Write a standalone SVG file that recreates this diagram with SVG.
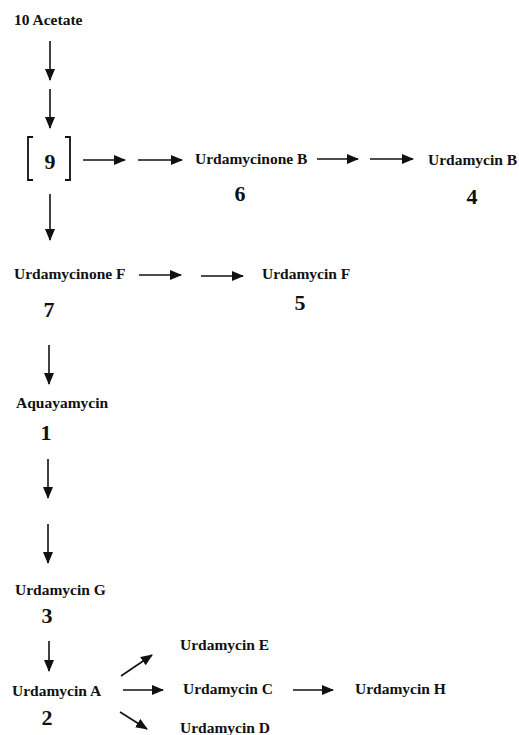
<svg xmlns="http://www.w3.org/2000/svg" width="519" height="735" viewBox="0 0 519 735">
<style>
.l{font-family:"Liberation Serif","Times New Roman",serif;font-weight:bold;font-size:15.5px;fill:#111}
.n{font-family:"Liberation Serif","Times New Roman",serif;font-weight:bold;font-size:22px;fill:#111;text-anchor:middle}
.c line{stroke:#111;stroke-width:1.6;marker-end:url(#ah)}
.br{fill:none;stroke:#111;stroke-width:1.8}
</style>
<defs>
<marker id="ah" markerUnits="userSpaceOnUse" markerWidth="12" markerHeight="10" refX="11" refY="5" orient="auto">
<path d="M0,0 L12,5 L0,10 Z" fill="#111"/>
</marker>
</defs>
<rect width="519" height="735" fill="#fff"/>
<g id="acetate"><text class="l" x="14" y="25">10 Acetate</text></g>
<g id="n9">
<path class="br" d="M33,137 H28 V180 H33"/>
<path class="br" d="M65,137 H70 V180 H65"/>
<text class="n" x="50" y="169" font-size="28">9</text>
</g>
<g id="n6"><text class="l" x="195" y="164">Urdamycinone B</text><text class="n" x="240" y="201">6</text></g>
<g id="n4"><text class="l" x="428" y="165">Urdamycin B</text><text class="n" x="472" y="204">4</text></g>
<g id="n7"><text class="l" x="14" y="279">Urdamycinone F</text><text class="n" x="49" y="317">7</text></g>
<g id="n5"><text class="l" x="262" y="279">Urdamycin F</text><text class="n" x="300" y="310">5</text></g>
<g id="n1"><text class="l" x="16" y="408">Aquayamycin</text><text class="n" x="46" y="440">1</text></g>
<g id="n3"><text class="l" x="15" y="595">Urdamycin G</text><text class="n" x="47" y="623">3</text></g>
<g id="n2"><text class="l" x="12" y="696">Urdamycin A</text><text class="n" x="47" y="725">2</text></g>
<g id="nE"><text class="l" x="180" y="650">Urdamycin E</text></g>
<g id="nC"><text class="l" x="183" y="694">Urdamycin C</text></g>
<g id="nH"><text class="l" x="355" y="694">Urdamycin H</text></g>
<g id="nD"><text class="l" x="180" y="733">Urdamycin D</text></g>
<g id="connectors" class="c">
<line x1="50" y1="41" x2="50" y2="80"/>
<line x1="50" y1="89" x2="50" y2="128"/>
<line x1="83" y1="160" x2="125" y2="160"/>
<line x1="138" y1="160" x2="182" y2="160"/>
<line x1="317" y1="159" x2="358" y2="159"/>
<line x1="370" y1="159" x2="413" y2="159"/>
<line x1="50" y1="194" x2="50" y2="240"/>
<line x1="139" y1="275" x2="181" y2="275"/>
<line x1="201" y1="276" x2="243" y2="276"/>
<line x1="49" y1="345" x2="49" y2="384"/>
<line x1="48" y1="459" x2="48" y2="498"/>
<line x1="48" y1="524" x2="48" y2="563"/>
<line x1="49" y1="641" x2="49" y2="671"/>
<line x1="121" y1="676" x2="152" y2="655"/>
<line x1="123" y1="690" x2="163" y2="690"/>
<line x1="293" y1="690" x2="333" y2="690"/>
<line x1="120" y1="712" x2="147" y2="729"/>
</g>
</svg>
